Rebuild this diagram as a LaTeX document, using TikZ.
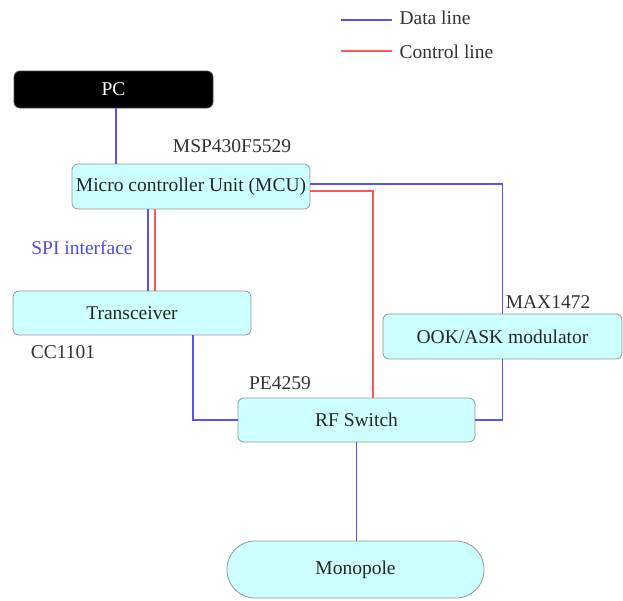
\documentclass[tikz,border=0pt]{standalone}
\usepackage{fontspec}
\setmainfont{Liberation Serif}
\usetikzlibrary{calc}

\definecolor{dataline}{RGB}{85,85,255}
\definecolor{ctrlline}{RGB}{255,90,90}
\definecolor{boxfill}{RGB}{204,255,255}
\definecolor{boxedge}{RGB}{150,150,150}

\tikzset{
    blockbox/.style={draw=boxedge,fill=boxfill,rounded corners=6pt,thick,
        inner sep=0pt,text=black!85},
    dataln/.style={draw=dataline,line width=1.3pt},
    ctrlln/.style={draw=ctrlline,line width=1.3pt},
    partlabel/.style={text=black!80}
}

\begin{document}
\begin{tikzpicture}[x=1pt,y=-1pt,font=\fontsize{19.5}{23}\selectfont]
    \useasboundingbox (0,0) rectangle (623,600);

    % legend
    \coordinate (ld1) at (341,20);
    \coordinate (ld2) at (392,20);
    \coordinate (lc1) at (341,51);
    \coordinate (lc2) at (392,51);
    \draw[dataln] (ld1) -- (ld2);
    \draw[ctrlln] (lc1) -- (lc2);
    \node[partlabel,anchor=west] (ldata) at (396,18) {Data line};
    \node[partlabel,anchor=west] (lctrl) at (396,52) {Control line};

    % blocks
    \node[blockbox,fill=black,draw=black!70,text=white,minimum width=199,minimum height=37] (pc) at (113.5,89.5) {PC};
    \node[blockbox,minimum width=238,minimum height=45] (mcu) at (191,186.5) {Micro controller Unit (MCU)};
    \node[blockbox,minimum width=238,minimum height=44] (trx) at (132,313) {Transceiver};
    \node[blockbox,minimum width=239,minimum height=45] (ook) at (502.5,336.5) {OOK/ASK modulator};
    \node[blockbox,minimum width=237,minimum height=44] (rf) at (356.5,420) {RF Switch};
    \node[blockbox,rounded corners=28pt,minimum width=257,minimum height=57] (mono) at (355.5,569.5) {Monopole};

    % part numbers
    \node[partlabel] (mcuname) at (232,146) {MSP430F5529};
    \node[partlabel] (trxname) at (63,352) {CC1101};
    \node[partlabel] (rfname) at (280,383) {PE4259};
    \node[partlabel] (ookname) at (548,302) {MAX1472};
    \node[text=dataline!90!black] (spi) at (82,248) {SPI interface};

    % connections
    \draw[dataln] ([xshift=2.5pt]pc.south) coordinate (pcA) -- (pcA |- mcu.north);

    \draw[dataln] ([xshift=-43pt]mcu.south) coordinate (spiA) -- (spiA |- trx.north);
    \draw[ctrlln] ([xshift=-36pt]mcu.south) coordinate (spiB) -- (spiB |- trx.north);

    \draw[dataln] ([yshift=2.5pt]mcu.east) -| (ook.north);
    \draw[ctrlln] ([yshift=-4.5pt]mcu.east) -| ([xshift=16.5pt]rf.north);

    \draw[dataln] (ook.south) |- (rf.east);
    \draw[dataln] ([xshift=61pt]trx.south) |- (rf.west);

    \draw[dataln,line width=1pt] (rf.south) -- (rf.south |- mono.north);
\end{tikzpicture}
\end{document}
